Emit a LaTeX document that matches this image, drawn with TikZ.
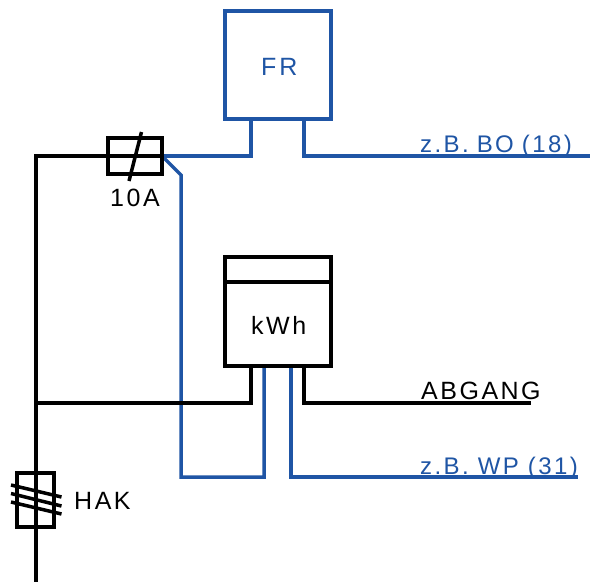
\documentclass[tikz,border=0pt]{standalone}
\usepackage{fontspec}
\setmainfont[LetterSpace=10]{Liberation Sans}
\definecolor{wireblue}{HTML}{1F55A5}
\tikzset{
  box/.style={draw=#1,line width=3.5pt,inner sep=0pt,outer sep=0pt,anchor=north west},
  wire/.style={draw=#1,line width=3.5pt,line join=miter},
  lab/.style={text=#1,font=\fontsize{25}{28}\selectfont,inner sep=0pt,anchor=base west},
  note/.style={text=#1,font=\fontsize{24}{28}\selectfont,inner sep=0pt,anchor=base west}
}
\begin{document}
\begin{tikzpicture}[x=1pt,y=-1pt]
\useasboundingbox (0,0) rectangle (590,582);
\fill[white] (0,0) rectangle (590,582);
% junctions
\coordinate (top) at (36,156);
\coordinate (mid) at (36,403);
\coordinate (bottom) at (36,582);
\coordinate (bo) at (590,156);
\coordinate (wp) at (578,477);
\coordinate (ab) at (531,403);
% blue wires
\coordinate (fuseR) at (162,156);
\coordinate (frA) at (251,119);
\coordinate (frB) at (304,119);
\coordinate (kA) at (251,366);
\coordinate (kB) at (264,366);
\coordinate (kC) at (291,366);
\coordinate (kD) at (304,366);
\draw[wire=wireblue] (fuseR) -- (251,156) -- (frA);
\draw[wire=wireblue] (frB) -- (304,156) -- (bo);
\draw[wire=wireblue] (fuseR) -- (181,175) -- (181,477) -- (264,477) -- (kB);
\draw[wire=wireblue] (kC) -- (291,477) -- (wp);
% black wires
\draw[wire=black] (fuseR) -- (top) -- (bottom);
\draw[wire=black] (mid) -- (251,403) -- (kA);
\draw[wire=black] (kD) -- (304,403) -- (ab);
% boxes
\node[box=wireblue,minimum width=106pt,minimum height=108pt] (fr) at (225,11) {};
\node[box=black,minimum width=54pt,minimum height=36pt] (fuse) at (108,138) {};
\node[box=black,minimum width=106pt,minimum height=109pt] (kwh) at (225,257) {};
\node[box=black,minimum width=37pt,minimum height=54pt] (hak) at (17,473) {};
\draw[wire=black] (kwh.north west |- 0,282) -- (kwh.north east |- 0,282);
% symbols
\draw[wire=black] (129,181) -- (141.5,132);
\draw[wire=black] (11,485) -- (61.5,497);
\draw[wire=black] (11,493.5) -- (61.5,506);
\draw[wire=black] (11,502) -- (61.5,514);
% labels
\node[lab=wireblue] (tfr) at (261,75) {F\kern3pt R};
\node[lab=black] (t10) at (110,206) {10A};
\node[lab=black] (tk) at (251,334) {kWh};
\node[lab=black] (tab) at (421,399) {ABGANG};
\node[lab=black] (thak) at (74,509) {HAK};
\node[note=wireblue] (tbo) at (420,152.5) {z.B.\kern-1pt{} BO\kern-1pt{} (18)};
\node[note=wireblue] (twp) at (420,474) {z.B. WP (31)};
\end{tikzpicture}
\end{document}
